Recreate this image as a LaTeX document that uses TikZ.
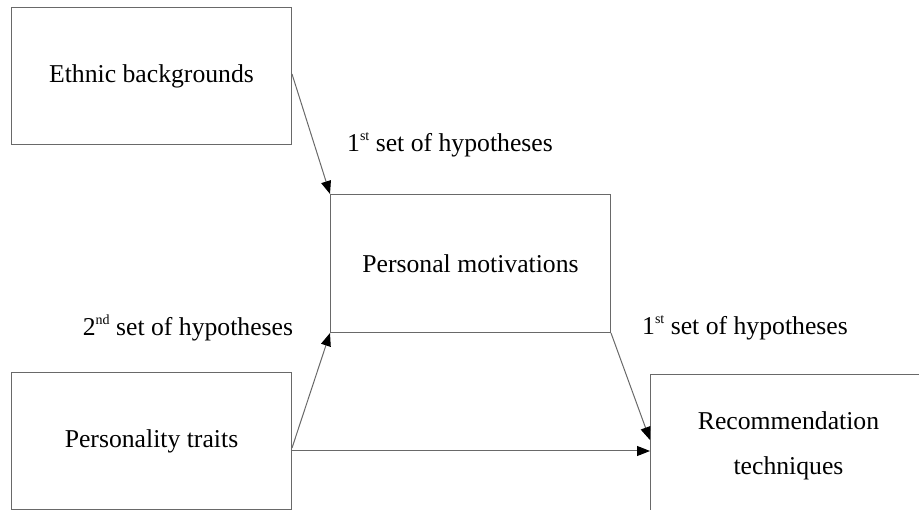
\documentclass[tikz,border=0pt]{standalone}
\usepackage{fontspec}
\setmainfont{Liberation Serif}
\usetikzlibrary{arrows.meta,calc}
\definecolor{linegray}{RGB}{105,105,105}
\newcommand\mysup[1]{\raisebox{0.45em}{\fontsize{14}{14}\selectfont #1}}
\tikzset{
  box/.style={draw=linegray, line width=1pt, rectangle, anchor=north west, inner sep=0pt,
    font=\fontsize{25.7}{45}\selectfont, align=center},
  lbl/.style={inner sep=0pt, font=\fontsize{25.7}{30}\selectfont},
  arr/.style={draw=linegray, line width=1pt, -{Triangle[length=13pt,width=10pt,color=black,fill=black]}},
  conn/.style={draw=linegray, line width=1pt}
}
\begin{document}
\begin{tikzpicture}[x=1pt,y=-1pt]
\useasboundingbox (0,0) rectangle (919,510);
\clip (0,0) rectangle (919,510);
\node[box, minimum width=280pt, minimum height=137pt] (eth) at (11,7) {Ethnic backgrounds};
\node[box, minimum width=280pt, minimum height=138pt] (pm) at (330,194) {Personal motivations};
\node[box, minimum width=280pt, minimum height=137pt] (pt) at (11,372) {Personality traits};
\node[box, minimum width=276pt, minimum height=142pt] (rt) at (650,374) {Recommendation\\techniques};
\node[lbl] (l1) at (450,145) {1\mysup{st} set of hypotheses};
\node[lbl] (l2) at (188,328) {2\mysup{nd} set of hypotheses};
\node[lbl] (l3) at (745,328) {1\mysup{st} set of hypotheses};
\coordinate (a1) at ([yshift=-7pt]pt.east);
\coordinate (a2) at ([yshift=-10pt]pt.east);
\draw[arr] ([yshift=2pt]eth.east) -- (pm.north west);
\draw[arr] (a1) -- (pm.south west);
\draw[arr] (a2) -- (a2 -| rt.west);
\draw[arr] (pm.south east) -- ([yshift=-66pt]rt.north west);
\end{tikzpicture}
\end{document}
